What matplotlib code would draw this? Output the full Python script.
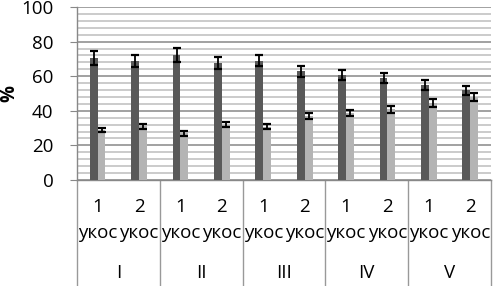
import numpy as np
import matplotlib.pyplot as plt
from matplotlib.ticker import MultipleLocator

plt.rcParams['font.family'] = ['Open Sans', 'DejaVu Sans']

# data
groups = ['I', 'II', 'III', 'IV', 'V']
cuts = ['1\nукос', '2\nукос']
dark_vals = [70.5, 68.7, 72.3, 67.6, 69.0, 62.8, 60.7, 59.0, 54.8, 51.8]
dark_err = [4.0, 3.3, 4.0, 3.6, 3.2, 3.2, 3.0, 2.8, 2.9, 2.7]
light_vals = [28.9, 31.1, 26.9, 32.0, 30.8, 37.0, 38.8, 40.9, 44.7, 48.0]
light_err = [1.4, 1.5, 1.4, 1.5, 1.5, 1.8, 1.9, 2.0, 2.4, 2.4]

fig = plt.figure(figsize=(4.93, 2.86), dpi=100)
ax = fig.add_axes([0.156, 0.3706, 0.840, 0.605])

n = len(dark_vals)
x = np.arange(n) + 0.5
w = 0.19

ax.bar(x - w / 2, dark_vals, w, color='#595959', zorder=3)
ax.bar(x + w / 2, light_vals, w, color='#b4b4b4', zorder=3)
ax.errorbar(x - w / 2, dark_vals, yerr=dark_err, fmt='none', ecolor='black',
            elinewidth=1.3, capsize=3, capthick=1.6, zorder=4)
ax.errorbar(x + w / 2, light_vals, yerr=light_err, fmt='none', ecolor='black',
            elinewidth=1.3, capsize=3, capthick=1.6, zorder=4)

ax.set_xlim(0, n)
ax.set_ylim(0, 100)
ax.yaxis.set_major_locator(MultipleLocator(20))
ax.yaxis.set_minor_locator(MultipleLocator(4))
ax.grid(axis='y', which='major', color='#9a9a9a', linewidth=1.3, zorder=0)
ax.grid(axis='y', which='minor', color='#bdbdbd', linewidth=1.1, zorder=0)
ax.tick_params(axis='y', which='major', length=5, color='#888888',
               labelsize=13.5, pad=12)
ax.tick_params(axis='y', which='minor', length=0)

ax.set_xticks(np.arange(0, n + 1, 2))
ax.set_xticklabels([])
ax.tick_params(axis='x', length=0)

for s in ['top', 'right']:
    ax.spines[s].set_visible(False)
for s in ['left', 'bottom']:
    ax.spines[s].set_color('#888888')
    ax.spines[s].set_linewidth(1.0)

ax.set_ylabel('%', fontsize=13.5, fontweight='bold', va='center')
ax.yaxis.set_label_coords(-0.162, 0.5)

# category table below the axis
tr = ax.get_xaxis_transform()
for i in range(n):
    top, bottom = cuts[i % 2].split('\n')
    ax.text(x[i], -0.155, top, transform=tr,
            ha='center', va='center', fontsize=13.5)
    ax.text(x[i], -0.305, bottom, transform=tr,
            ha='center', va='center', fontsize=13.5)
for g, name in enumerate(groups):
    ax.text(2 * g + 1, -0.535, name, transform=tr, ha='center',
            va='center', fontsize=13.5)
for b in np.arange(0, n + 1, 2):
    ax.plot([b, b], [0, -0.62], transform=tr, color='#999999',
            linewidth=1.0, clip_on=False)

fig.savefig('out.png', dpi=100)
